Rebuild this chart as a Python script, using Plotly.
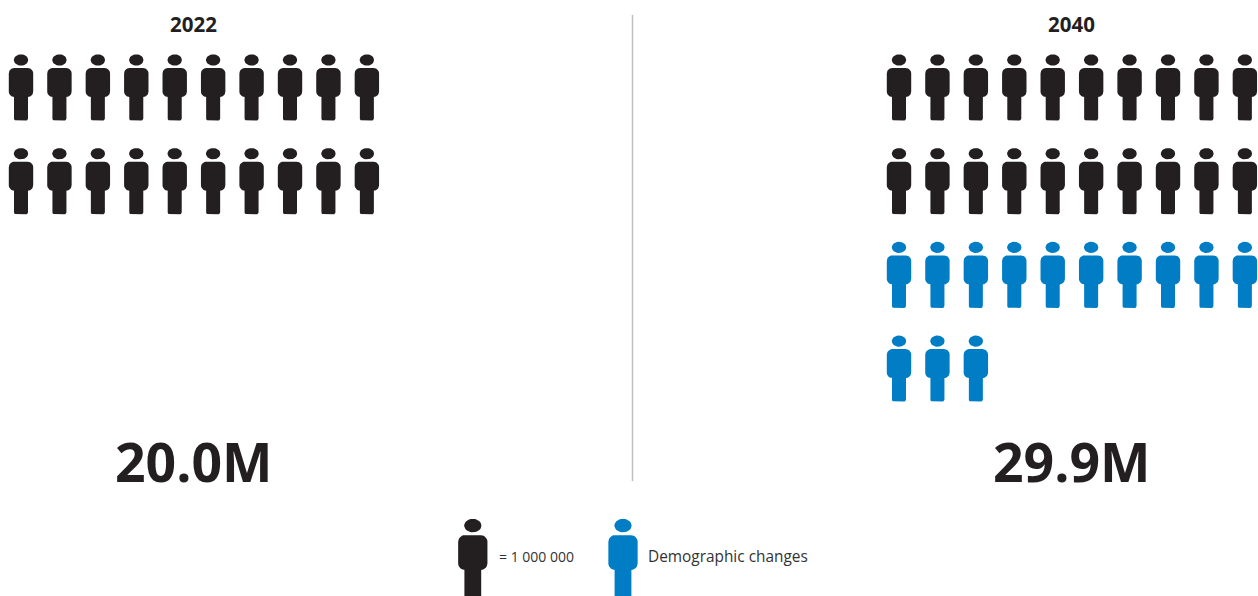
import numpy as np
import plotly.graph_objects as go

# Data
panel_titles = ["2022", "2040"]
panel_totals = ["20.0M", "29.9M"]
black_icons = [20, 20]
blue_icons = [0, 13]
icons_per_row = 10
legend_labels = ["= 1 000 000", "Demographic changes"]

# Styles / layout
BLACK = "#231f20"
BLUE = "#007dc5"
W, H = 1258, 596
panel_x0 = [21.0, 899.0]
col_step = 38.43
row_y0 = 54.5
row_step = 93.7
text_cx = [193.8, 1071.8]


def arc(cx, cy, rx, ry, a0, a1, n=8):
    t = np.radians(np.linspace(a0, a1, n))
    return list(cx + rx * np.cos(t)), list(cy + ry * np.sin(t))


def person(cx, top, s=1.0):
    """Outline of one person glyph: (xs, ys) with None separating head and body."""
    hx, hy = arc(cx, top + 5.5 * s, 7.2 * s, 5.6 * s, 0, 360, 30)
    bw, lw = 12.2 * s, 7.0 * s
    bt, bb, lb = top + 13.5 * s, top + 42.5 * s, top + 66.0 * s
    r = 5.5 * s
    f = 1.8 * s
    xs, ys = [], []
    for c, a in [
        ((cx - bw + r, bt + r), (180, 270)),
        ((cx + bw - r, bt + r), (270, 360)),
        ((cx + bw - r, bb - r), (0, 90)),
    ]:
        ax, ay = arc(c[0], c[1], r, r, a[0], a[1])
        xs += ax
        ys += ay
    xs += [cx + lw]
    ys += [bb]
    ax, ay = arc(cx + lw - f, lb - f, f, f, 0, 90, 4)
    xs += ax
    ys += ay
    ax, ay = arc(cx - lw + f, lb - f, f, f, 90, 180, 4)
    xs += ax + [cx - lw]
    ys += ay + [bb]
    ax, ay = arc(cx - bw + r, bb - r, r, r, 90, 180)
    xs += ax
    ys += ay
    xs.append(xs[0])
    ys.append(ys[0])
    return hx + [None] + xs + [None], hy + [None] + ys + [None]


def collect(items):
    X, Y = [], []
    for it in items:
        x, y = person(*it)
        X += x
        Y += y
    return X, Y


def add_people(fig, items, color, name):
    x, y = collect(items)
    fig.add_trace(go.Scatter(x=x, y=y, mode="lines", fill="toself", fillcolor=color,
                             line=dict(color=color, width=0), name=name,
                             hoverinfo="skip", showlegend=False))


fig = go.Figure()
for p in range(len(panel_titles)):
    total = black_icons[p] + blue_icons[p]
    black, blue = [], []
    for i in range(total):
        row, col = divmod(i, icons_per_row)
        item = (panel_x0[p] + col * col_step, row_y0 + row * row_step)
        (black if i < black_icons[p] else blue).append(item)
    add_people(fig, black, BLACK, panel_titles[p])
    if blue:
        add_people(fig, blue, BLUE, legend_labels[1])
    fig.add_annotation(x=text_cx[p], y=24, text=f"<b>{panel_titles[p]}</b>", showarrow=False,
                       font=dict(family="Open Sans", size=20.5, color=BLACK))
    fig.add_annotation(x=text_cx[p], y=461.5, text=f"<b>{panel_totals[p]}</b>", showarrow=False,
                       font=dict(family="Open Sans", size=53.5, color=BLACK))

# divider
fig.add_trace(go.Scatter(x=[632.5, 632.5], y=[15, 481], mode="lines",
                         line=dict(color="#bcbec0", width=1.5), hoverinfo="skip", showlegend=False))

# legend
add_people(fig, [(472.8, 519.0, 1.2)], BLACK, legend_labels[0])
add_people(fig, [(623.0, 519.0, 1.2)], BLUE, legend_labels[1])
fig.add_annotation(x=497, y=556.5, text=legend_labels[0], showarrow=False, xanchor="left",
                   font=dict(family="Open Sans", size=14, color="#333333"))
fig.add_annotation(x=646, y=556.5, text=legend_labels[1], showarrow=False, xanchor="left",
                   font=dict(family="Open Sans", size=15.4, color="#333333"))

fig.update_xaxes(range=[0, W], visible=False, fixedrange=True)
fig.update_yaxes(range=[H, 0], visible=False, fixedrange=True)
fig.update_layout(width=W, height=H, margin=dict(l=0, r=0, t=0, b=0),
                  paper_bgcolor="white", plot_bgcolor="white", showlegend=False)
fig.write_html("out.html", config=dict(displayModeBar=False),
               post_script="document.body.style.margin='0';document.documentElement.style.overflow='hidden';")
